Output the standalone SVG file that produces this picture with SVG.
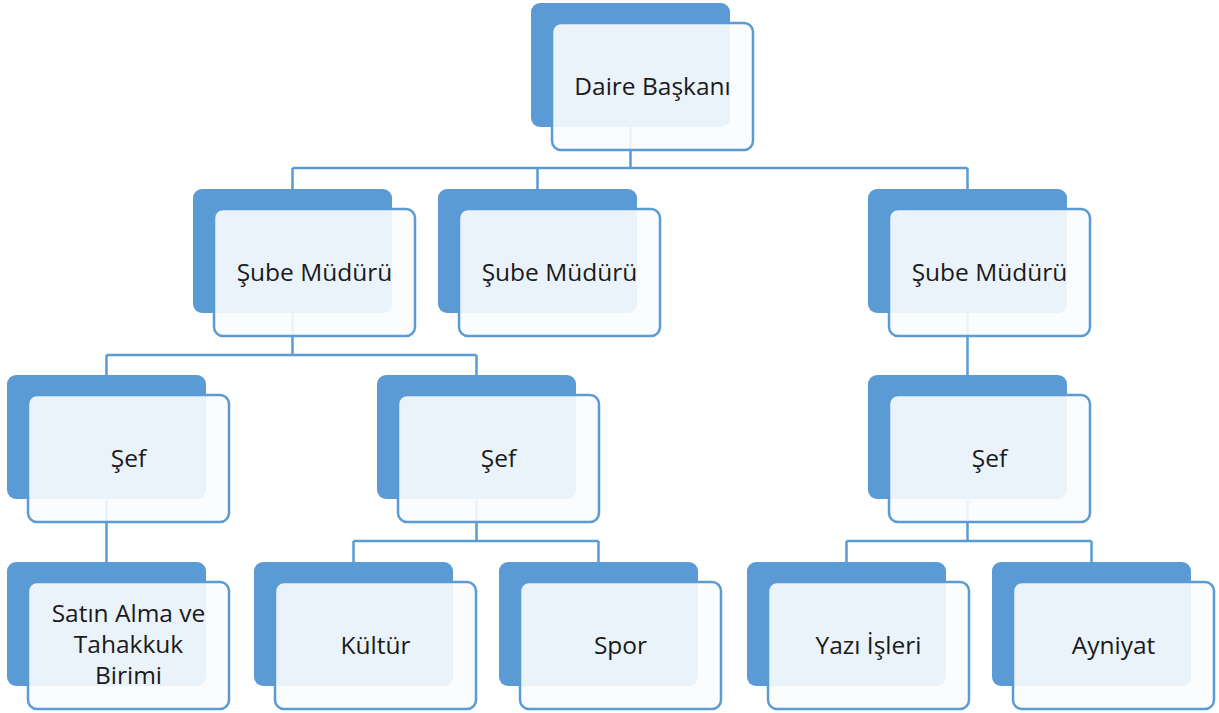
<svg xmlns="http://www.w3.org/2000/svg" width="1219" height="713" viewBox="0 0 1219 713">
<style>
.bk{fill:#5b9bd5}
.fr{fill:#fafcfe;fill-opacity:0.9;stroke:#5b9bd5;stroke-width:2.5}
.t{font-family:"Open Sans","Liberation Sans",sans-serif;font-size:24.5px;fill:#1a1a1a;text-anchor:middle}
.c{fill:none;stroke:#5b9bd5;stroke-width:2.5}
</style>
<rect width="1219" height="713" fill="#ffffff"/>
<g id="connectors">
<path class="c" d="M630.5 127V168M292.5 168H967.5M292.5 168V189M537.5 168V189M967.5 168V189"/>
<path class="c" d="M292.5 313V355M106.5 355H476.5M106.5 355V375M476.5 355V375"/>
<path class="c" d="M967.5 313V375"/>
<path class="c" d="M106.5 500V562"/>
<path class="c" d="M476.5 500V541M353.5 541H598.5M353.5 541V562M598.5 541V562"/>
<path class="c" d="M967.5 500V541M846.5 541H1091.5M846.5 541V562M1091.5 541V562"/>
</g>
<g id="daire">
<rect class="bk" x="531" y="3" width="199" height="124" rx="9"/>
<rect class="fr" x="552" y="23" width="201" height="127" rx="9"/>
<text class="t" x="652.5" y="95">Daire Başkanı</text>
</g>
<g id="sube1">
<rect class="bk" x="193" y="189" width="199" height="124" rx="9"/>
<rect class="fr" x="214" y="209" width="201" height="127" rx="9"/>
<text class="t" x="314.5" y="281">Şube Müdürü</text>
</g>
<g id="sube2">
<rect class="bk" x="438" y="189" width="199" height="124" rx="9"/>
<rect class="fr" x="459" y="209" width="201" height="127" rx="9"/>
<text class="t" x="559.5" y="281">Şube Müdürü</text>
</g>
<g id="sube3">
<rect class="bk" x="868" y="189" width="199" height="124" rx="9"/>
<rect class="fr" x="889" y="209" width="201" height="127" rx="9"/>
<text class="t" x="989.5" y="281">Şube Müdürü</text>
</g>
<g id="sef1">
<rect class="bk" x="7" y="375" width="199" height="124" rx="9"/>
<rect class="fr" x="28" y="395" width="201" height="127" rx="9"/>
<text class="t" x="128.5" y="467">Şef</text>
</g>
<g id="sef2">
<rect class="bk" x="377" y="375" width="199" height="124" rx="9"/>
<rect class="fr" x="398" y="395" width="201" height="127" rx="9"/>
<text class="t" x="498.5" y="467">Şef</text>
</g>
<g id="sef3">
<rect class="bk" x="868" y="375" width="199" height="124" rx="9"/>
<rect class="fr" x="889" y="395" width="201" height="127" rx="9"/>
<text class="t" x="989.5" y="467">Şef</text>
</g>
<g id="satinalma">
<rect class="bk" x="7" y="562" width="199" height="124" rx="9"/>
<rect class="fr" x="28" y="582" width="201" height="127" rx="9"/>
<text class="t" x="128.5" y="622">Satın Alma ve</text>
<text class="t" x="128.5" y="653">Tahakkuk</text>
<text class="t" x="128.5" y="684">Birimi</text>
</g>
<g id="kultur">
<rect class="bk" x="254" y="562" width="199" height="124" rx="9"/>
<rect class="fr" x="275" y="582" width="201" height="127" rx="9"/>
<text class="t" x="375.5" y="654">Kültür</text>
</g>
<g id="spor">
<rect class="bk" x="499" y="562" width="199" height="124" rx="9"/>
<rect class="fr" x="520" y="582" width="201" height="127" rx="9"/>
<text class="t" x="620.5" y="654">Spor</text>
</g>
<g id="yazi">
<rect class="bk" x="747" y="562" width="199" height="124" rx="9"/>
<rect class="fr" x="768" y="582" width="201" height="127" rx="9"/>
<text class="t" x="868.5" y="654">Yazı İşleri</text>
</g>
<g id="ayniyat">
<rect class="bk" x="992" y="562" width="199" height="124" rx="9"/>
<rect class="fr" x="1013" y="582" width="201" height="127" rx="9"/>
<text class="t" x="1113.5" y="654">Ayniyat</text>
</g>
</svg>
